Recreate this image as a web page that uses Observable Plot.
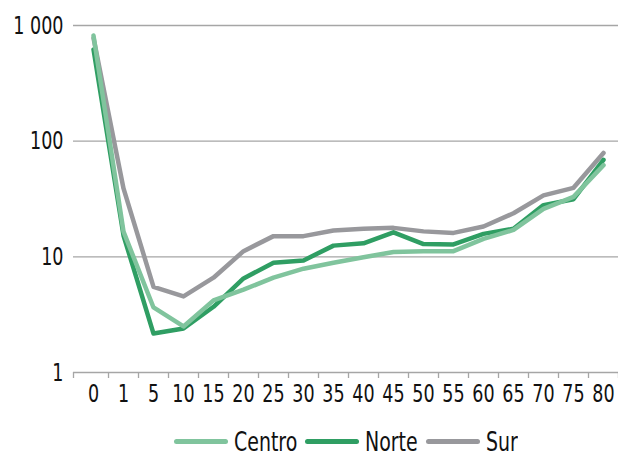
<!DOCTYPE html>
<html><head><meta charset="utf-8">
<script src="https://cdn.jsdelivr.net/npm/d3@7"></script>
<script src="https://cdn.jsdelivr.net/npm/@observablehq/plot@0.6"></script>
<style>
body{margin:0;background:#fff;font-family:"DejaVu Sans Condensed","DejaVu Sans",sans-serif;}
#legend{display:flex;justify-content:center;align-items:center;height:62px;padding-left:73px;font-size:27px;color:#111}
.item{display:flex;align-items:center;margin:0 4px}
.sw{width:54px;height:5px;border-radius:2.5px;margin-right:6px}
.lt{display:inline-block;transform:scaleX(0.78);transform-origin:left center;white-space:nowrap}
</style></head><body><div id="chart"></div><div id="legend"></div>
<script>
const ages = ["0","1","5","10","15","20","25","30","35","40","45","50","55","60","65","70","75","80"];
const centro = [820, 16.5, 3.65, 2.5, 4.2, 5.2, 6.6, 7.9, 8.9, 9.9, 11.0, 11.2, 11.2, 14.3, 17.1, 26, 33, 62];
const norte  = [620, 15.3, 2.17, 2.4, 3.7, 6.5, 8.9, 9.3, 12.5, 13.1, 16.3, 12.9, 12.8, 15.8, 17.5, 28, 31.5, 69];
const sur    = [780, 39, 5.5, 4.55, 6.6, 11.2, 15.1, 15.1, 16.9, 17.5, 17.8, 16.6, 16.1, 18.3, 23.8, 34, 39.5, 79];
const seriesNames = ["Centro", "Norte", "Sur"];
const seriesColors = ["#80c49d", "#2f9e63", "#98989c"];
const yTicks = [1, 10, 100, 1000];

const seriesValues = [centro, norte, sur];
const rows = seriesNames.flatMap((s, k) => seriesValues[k].map((v, i) => ({serie: s, i, v})));
const idx = ages.map((d, i) => i);
const between = [-0.667, ...idx.map(i => i + 0.5)];
const grid = "#a6a6a6";
const FS = 25;

const chart = Plot.plot({
  width: 618, height: 410,
  marginLeft: 73, marginRight: 0, marginTop: 25, marginBottom: 38,
  style: {fontFamily: '"DejaVu Sans Condensed","DejaVu Sans",sans-serif', fontSize: FS + "px", color: "#111", background: "#fff", overflow: "visible"},
  x: {type: "linear", domain: [-0.667, 17.5], axis: null},
  y: {type: "log", domain: [1, 1000], axis: null},
  marks: [
    Plot.ruleY(yTicks.filter(d => d > 1), {stroke: grid, strokeWidth: 1.3}),
    Plot.ruleY([1], {stroke: grid, strokeWidth: 1.3}),
    Plot.axisX(between, {tickSize: 6, tickFormat: () => "", label: null, stroke: grid, strokeWidth: 1.3, strokeOpacity: 1}),
    Plot.axisX(idx, {tickSize: 0, tickPadding: 12, label: null, tickFormat: i => ages[i], fill: "#111", fontSize: FS}),
    Plot.axisY(yTicks, {tickSize: 0, tickPadding: 10, label: null, tickFormat: d => d3.format(",")(d).replace(",", " "), fill: "#111", fontSize: FS}),
    ...[2, 1, 0].map(k => Plot.lineY(rows.filter(r => r.serie === seriesNames[k]), {
      x: "i", y: "v", stroke: seriesColors[k], strokeWidth: 4.5, strokeLinejoin: "round", strokeLinecap: "round"
    }))
  ]
});
document.getElementById("chart").appendChild(chart);

// condense glyphs horizontally around their anchor to mimic the narrow typeface of the original
chart.querySelectorAll("text").forEach(t => {
  const tr = t.getAttribute("transform") || "";
  t.setAttribute("transform", tr + " scale(0.78,1)");
});

const leg = document.getElementById("legend");
seriesNames.forEach((s, k) => {
  const it = document.createElement("div");
  it.className = "item";
  it.innerHTML = `<span class="sw" style="background:${seriesColors[k]}"></span><span class="lt">${s}</span>`;
  leg.appendChild(it);
  const lt = it.querySelector(".lt");
  lt.style.marginRight = (-lt.offsetWidth * 0.22) + "px";
});
</script></body></html>
